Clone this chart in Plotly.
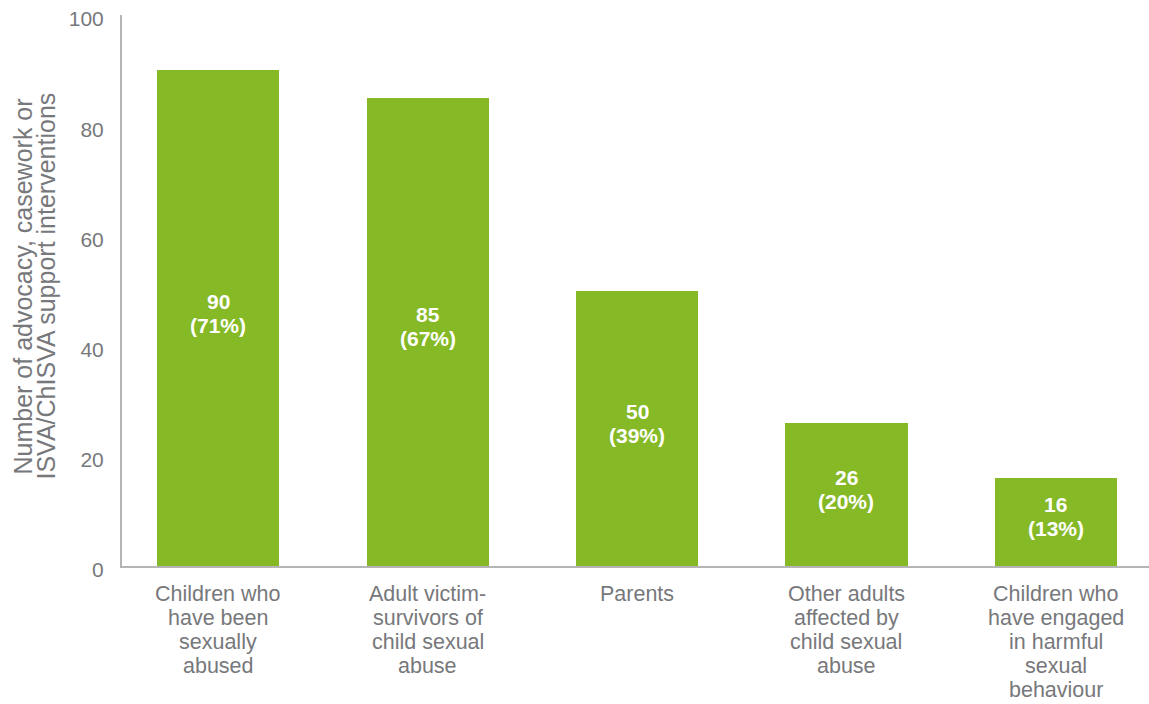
import plotly.graph_objects as go

categories = [
    "Children who\nhave been\nsexually\nabused",
    "Adult victim-\nsurvivors of\nchild sexual\nabuse",
    "Parents",
    "Other adults\naffected by\nchild sexual\nabuse",
    "Children who\nhave engaged\nin harmful\nsexual\nbehaviour",
]
counts = [90, 85, 50, 26, 16]
percents = [71, 67, 39, 20, 13]
y_ticks = [0, 20, 40, 60, 80, 100]
y_title_lines = ["Number of advocacy, casework or", "ISVA/ChISVA support interventions"]

GREEN = "#85B926"
GREY_TEXT = "#77787B"
AXIS_GREY = "#B5B5B5"
FONT = "Liberation Sans, Arial, Helvetica, sans-serif"

x_pos = list(range(len(categories)))

fig = go.Figure(
    go.Bar(
        x=x_pos,
        y=counts,
        width=0.584,
        marker=dict(color=GREEN, line=dict(width=0)),
        hoverinfo="skip",
    )
)

annotations = []

# value and share labels, centred inside each bar (two tight lines)
for i, (c, p) in enumerate(zip(counts, percents)):
    for txt, shift in ((f"<b>{c}</b>", 17), (f"<b>({p}%)</b>", -7)):
        annotations.append(dict(
            x=i, y=c / 2, xref="x", yref="y",
            text=txt, showarrow=False,
            xanchor="center", yanchor="middle", yshift=shift,
            font=dict(family=FONT, size=21, color="white"),
        ))

# category labels below the axis, one line per annotation for tight leading
for i, cat in enumerate(categories):
    for k, line in enumerate(cat.split("\n")):
        annotations.append(dict(
            x=i, y=0, xref="x", yref="paper",
            text=line, showarrow=False,
            xanchor="center", yanchor="middle", yshift=-(28 + 24 * k),
            font=dict(family=FONT, size=21.5, color=GREY_TEXT),
        ))

# rotated two-line y-axis title
for k, line in enumerate(y_title_lines):
    annotations.append(dict(
        x=0, y=0.5, xref="paper", yref="paper",
        text=line, showarrow=False, textangle=-90,
        xanchor="center", yanchor="middle",
        xshift=-100 + 23 * k, yshift=4,
        font=dict(family=FONT, size=25, color=GREY_TEXT),
    ))

fig.update_layout(
    width=1149,
    height=704,
    margin=dict(l=122, r=0, t=15, b=138),
    paper_bgcolor="white",
    plot_bgcolor="white",
    showlegend=False,
    bargap=0,
    font=dict(family=FONT, color=GREY_TEXT),
    annotations=annotations,
)

fig.update_xaxes(
    range=[-0.46, 4.445],
    tickmode="array",
    tickvals=x_pos,
    showticklabels=False,
    ticks="",
    showline=True,
    linecolor=AXIS_GREY,
    linewidth=2,
    showgrid=False,
    zeroline=False,
    fixedrange=True,
)

fig.update_yaxes(
    range=[0, 100],
    tickmode="array",
    tickvals=y_ticks,
    ticktext=[str(v) for v in y_ticks],
    tickfont=dict(family=FONT, size=21, color=GREY_TEXT),
    ticks="",
    ticklabelstandoff=12,
    ticklabelshift=4,
    showline=True,
    linecolor=AXIS_GREY,
    linewidth=2,
    showgrid=False,
    zeroline=False,
    fixedrange=True,
)

fig.write_html("out.html")
